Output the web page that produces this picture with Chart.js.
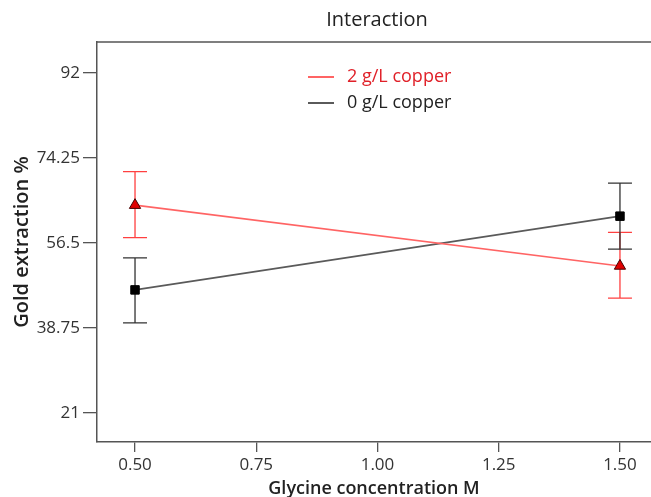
<!DOCTYPE html>
<html>
<head>
<meta charset="utf-8">
<script src="https://cdn.jsdelivr.net/npm/chart.js@4"></script>
<style>
  html, body { margin: 0; padding: 0; background: #fff; }
  #wrap { width: 651px; height: 497px; }
</style>
</head>
<body>
<div id="wrap"><canvas id="chart" width="651" height="497"></canvas></div>
<script>
// --------------------------
// data
// --------------------------
const chartTitle = "Interaction";
const xTitle = "Glycine concentration M";
const yTitle = "Gold extraction %";
const seriesNames = ["2 g/L copper", "0 g/L copper"];

const glycine = [0.5, 1.5];

const copper2Mean = [64.4, 51.7];
const copper2Low = [57.6, 45.0];
const copper2High = [71.4, 58.7];

const copper0Mean = [46.7, 62.1];
const copper0Low = [39.8, 55.2];
const copper0High = [53.4, 69.0];

const xTicks = [0.5, 0.75, 1.0, 1.25, 1.5];
const yTicks = [21, 38.75, 56.5, 74.25, 92];

const FONT = "'Open Sans', 'DejaVu Sans', sans-serif";
const AXIS = "#555";

function toPoints(xs, ys) {
  return xs.map((x, i) => ({ x, y: ys[i] }));
}

const errorBars = [
  { low: copper2Low, high: copper2High, color: "#ff4040" },
  { low: copper0Low, high: copper0High, color: "#333" }
];

// --------------------------
// decorations: error bars, frame, title, legend
// --------------------------
const decor = {
  id: "decor",
  beforeDatasetsDraw(chart) {
    const { ctx, chartArea, scales } = chart;
    ctx.save();
    // top frame line
    ctx.strokeStyle = AXIS;
    ctx.lineWidth = 1.5;
    ctx.beginPath();
    ctx.moveTo(chartArea.left, chartArea.top);
    ctx.lineTo(chartArea.right, chartArea.top);
    ctx.stroke();

    errorBars.forEach(eb => {
      ctx.strokeStyle = eb.color;
      ctx.lineWidth = 1.3;
      glycine.forEach((g, i) => {
        const x = scales.x.getPixelForValue(g);
        const y1 = scales.y.getPixelForValue(eb.high[i]);
        const y2 = scales.y.getPixelForValue(eb.low[i]);
        ctx.beginPath();
        ctx.moveTo(x, y1); ctx.lineTo(x, y2);
        ctx.moveTo(x - 12, y1); ctx.lineTo(x + 12, y1);
        ctx.moveTo(x - 12, y2); ctx.lineTo(x + 12, y2);
        ctx.stroke();
      });
    });
    ctx.restore();
  },
  afterDraw(chart) {
    const { ctx } = chart;
    ctx.save();
    ctx.fillStyle = "#222";
    ctx.font = "500 20px " + FONT;
    ctx.textAlign = "center";
    ctx.textBaseline = "middle";
    ctx.fillText(chartTitle, 377, 20);

    // legend
    const textColors = ["#e02028", "#222"];
    chart.data.datasets.forEach((ds, i) => {
      const y = 77 + i * 26;
      ctx.strokeStyle = ds.borderColor;
      ctx.lineWidth = 2;
      ctx.beginPath();
      ctx.moveTo(308, y); ctx.lineTo(334, y);
      ctx.stroke();
      ctx.fillStyle = textColors[i];
      ctx.font = "18px " + FONT;
      ctx.textAlign = "left";
      ctx.fillText(ds.label, 347, y);
    });
    ctx.restore();
  }
};

// --------------------------
// chart
// --------------------------
new Chart(document.getElementById("chart").getContext("2d"), {
  type: "scatter",
  data: {
    datasets: [
      {
        label: seriesNames[0],
        data: toPoints(glycine, copper2Mean),
        showLine: true,
        borderColor: "#ff6464",
        borderWidth: 1.6,
        pointStyle: "triangle",
        pointRadius: 6.5,
        pointBackgroundColor: "#e00000",
        pointBorderColor: "#400",
        pointBorderWidth: 1,
        clip: false
      },
      {
        label: seriesNames[1],
        data: toPoints(glycine, copper0Mean),
        showLine: true,
        borderColor: "#5a5a5a",
        borderWidth: 1.6,
        pointStyle: "rect",
        pointRadius: 6,
        pointBackgroundColor: "#000",
        pointBorderColor: "#000",
        pointBorderWidth: 1,
        clip: false
      }
    ]
  },
  options: {
    responsive: false,
    animation: false,
    devicePixelRatio: 1,
    layout: { autoPadding: false, padding: { top: 42, right: 0, left: 0, bottom: 0 } },
    plugins: {
      legend: { display: false },
      tooltip: { enabled: false },
      title: { display: false }
    },
    scales: {
      x: {
        type: "linear",
        min: 0.4216,
        max: 1.564,
        afterFit: s => { s.height = 55; },
        afterBuildTicks: s => { s.ticks = xTicks.map(v => ({ value: v })); },
        border: { color: AXIS, width: 1.5 },
        grid: { drawOnChartArea: false, drawTicks: true, tickLength: 10, color: AXIS, lineWidth: 1.3 },
        ticks: {
          color: "#333",
          padding: 3,
          font: { family: FONT, size: 17 },
          callback: v => Number(v).toFixed(2)
        },
        title: {
          display: true,
          text: xTitle,
          color: "#222",
          font: { family: FONT, size: 18, weight: "600", lineHeight: 1.2 },
          padding: { top: 0, bottom: -3 }
        }
      },
      y: {
        min: 14.94,
        max: 98.47,
        afterFit: s => { s.width = 97; },
        afterBuildTicks: s => { s.ticks = yTicks.map(v => ({ value: v })); },
        border: { color: AXIS, width: 1.5 },
        grid: { drawOnChartArea: false, drawTicks: true, tickLength: 14, color: AXIS, lineWidth: 1.3 },
        ticks: {
          color: "#333",
          padding: 3,
          font: { family: FONT, size: 17 },
          callback: v => String(v)
        },
        title: {
          display: true,
          text: yTitle,
          color: "#222",
          font: { family: FONT, size: 20, weight: "600", lineHeight: 1.2 },
          padding: { top: 10, bottom: 0 }
        }
      }
    }
  },
  plugins: [decor]
});
</script>
</body>
</html>
